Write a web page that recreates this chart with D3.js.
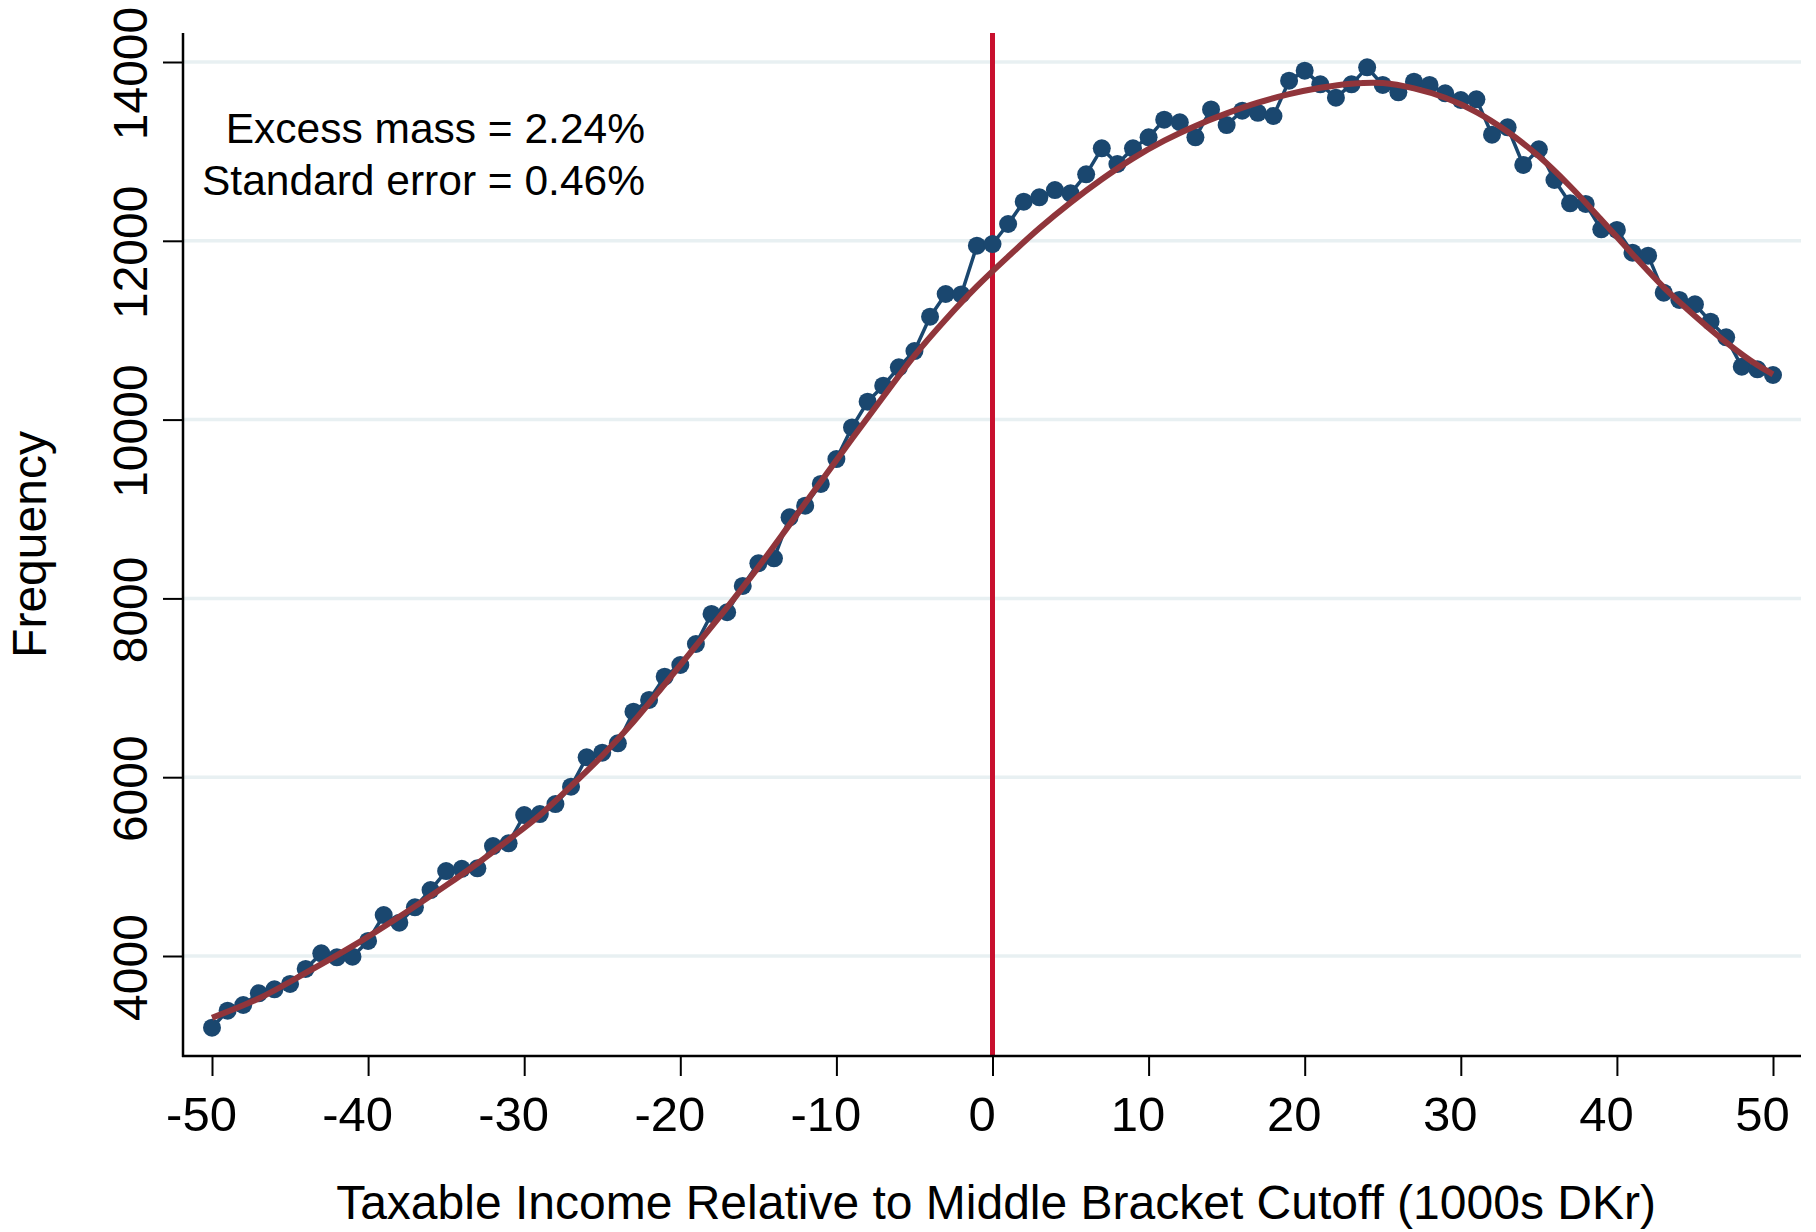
<!DOCTYPE html>
<html>
<head>
<meta charset="utf-8">
<script src="https://cdn.jsdelivr.net/npm/d3@7"></script>
<style>
  body { margin: 0; background: #fff; }
  svg { display: block; }
  text { font-family: "Liberation Sans", Arial, sans-serif; fill: #000; }
</style>
</head>
<body>
<svg id="chart" width="1816" height="1232"></svg>
<script>
// Income bins, 1000s DKr relative to the middle bracket cutoff
const bins = d3.range(-50, 51);

// Observed frequency in each bin
const frequency = [
  3198, 3388, 3452, 3582, 3627, 3687, 3855, 4030, 3985, 3992,
  4168, 4458, 4373, 4545, 4738, 4950, 4975, 4981, 5230, 5261,
  5577, 5588, 5700, 5894, 6222, 6274, 6379, 6733, 6864, 7124,
  7255, 7490, 7826, 7845, 8139, 8393, 8448, 8907, 9037, 9280,
  9559, 9913, 10200, 10379, 10585, 10767, 11151, 11405, 11400, 11945,
  11964,
  12188, 12438, 12486, 12568, 12531, 12744, 13034, 12859, 13034, 13157,
  13355, 13326, 13157, 13470, 13295, 13455, 13432, 13396, 13791, 13903,
  13750, 13601, 13750, 13940, 13743, 13661, 13780, 13743, 13650, 13575,
  13583, 13187, 13270, 12848, 13024, 12680, 12419, 12412, 12128, 12121,
  11867, 11834, 11420, 11338, 11289, 11095, 10920, 10592, 10562, 10499
];

// Counterfactual (fitted polynomial) density
const fitIncome = [-50, -47, -44, -41, -38, -35, -33, -31, -29, -27, -25, -23, -21, -19, -17, -15, -13, -11, -9, -7, -5, -3, -1,
  1, 3, 5, 7, 9, 11, 13, 15, 17, 19, 21, 23, 25, 27, 29, 31, 33, 35, 37, 39, 41, 43, 45, 47, 49, 50];
const fitFrequency = [3310, 3525, 3810, 4110, 4440, 4790, 5035, 5300, 5575, 5900, 6240, 6620, 7040, 7470, 7900, 8350, 8825, 9305, 9785, 10255, 10715, 11120, 11490,
  11823, 12140, 12427, 12688, 12922, 13120, 13285, 13425, 13545, 13640, 13712, 13758, 13765, 13705, 13600, 13440, 13220, 12945, 12610, 12235, 11850, 11480, 11160, 10865, 10610, 10507];

const xTicks = [-50, -40, -30, -20, -10, 0, 10, 20, 30, 40, 50];
const yTicks = [4000, 6000, 8000, 10000, 12000, 14000];
const cutoff = 0;
const noteLines = ["Excess mass = 2.24%", "Standard error = 0.46%"];

const frame = { left: 183, right: 1801, top: 33, bottom: 1056 };

const x = d3.scaleLinear().domain([-50, 50]).range([212, 1773]);
const y = d3.scaleLinear().domain([4000, 14000]).range([956, 62]);

// plain hyphen-minus labels
const plain = d => String(d);

const svg = d3.select("#chart");

// Horizontal grid
svg.append("g")
  .selectAll("line")
  .data(yTicks)
  .join("line")
  .attr("x1", frame.left).attr("x2", frame.right)
  .attr("y1", d => y(d)).attr("y2", d => y(d))
  .attr("stroke", "#e8f0f2")
  .attr("stroke-width", 3.5);

// Cutoff marker
svg.append("line")
  .attr("x1", x(cutoff)).attr("x2", x(cutoff))
  .attr("y1", frame.top).attr("y2", frame.bottom)
  .attr("stroke", "#c8102e")
  .attr("stroke-width", 5);

// Observed series
svg.append("path")
  .datum(frequency)
  .attr("fill", "none")
  .attr("stroke", "#1a476f")
  .attr("stroke-width", 3.5)
  .attr("stroke-linejoin", "round")
  .attr("d", d3.line().x((d, i) => x(bins[i])).y(d => y(d)));

svg.append("g")
  .selectAll("circle")
  .data(frequency)
  .join("circle")
  .attr("cx", (d, i) => x(bins[i]))
  .attr("cy", d => y(d))
  .attr("r", 9)
  .attr("fill", "#1a476f");

// Fitted counterfactual
svg.append("path")
  .datum(fitFrequency)
  .attr("fill", "none")
  .attr("stroke", "#90353b")
  .attr("stroke-width", 6)
  .attr("stroke-linecap", "butt")
  .attr("d", d3.line().curve(d3.curveCatmullRom.alpha(0.5)).x((d, i) => x(fitIncome[i])).y(d => y(d)));

// Axes
const yAxis = svg.append("g")
  .attr("transform", `translate(${frame.left},0)`)
  .call(d3.axisLeft(y).tickValues(yTicks).tickSize(20).tickFormat(plain));
yAxis.select(".domain").remove();
yAxis.selectAll(".tick line").attr("stroke", "#000").attr("stroke-width", 2);
yAxis.selectAll(".tick text")
  .attr("transform", "rotate(-90)")
  .attr("x", -11).attr("y", -36).attr("dy", null)
  .attr("text-anchor", "middle")
  .attr("font-size", 48)
  .attr("font-family", null)
  .attr("fill", "#000");

const xAxis = svg.append("g")
  .attr("transform", `translate(0,${frame.bottom})`)
  .call(d3.axisBottom(x).tickValues(xTicks).tickSize(20).tickFormat(plain));
xAxis.select(".domain").remove();
xAxis.selectAll(".tick line").attr("stroke", "#000").attr("stroke-width", 2);
xAxis.selectAll(".tick text")
  .attr("y", 75).attr("dy", null).attr("dx", -11)
  .attr("font-size", 49)
  .attr("font-family", null)
  .attr("fill", "#000");

svg.append("line")
  .attr("x1", frame.left).attr("x2", frame.left)
  .attr("y1", frame.top).attr("y2", frame.bottom + 1)
  .attr("stroke", "#000").attr("stroke-width", 2.5);
svg.append("line")
  .attr("x1", frame.left - 1).attr("x2", frame.right)
  .attr("y1", frame.bottom).attr("y2", frame.bottom)
  .attr("stroke", "#000").attr("stroke-width", 2.5);

// Axis titles
svg.append("text")
  .attr("x", (frame.left + frame.right) / 2 + 4)
  .attr("y", 1219)
  .attr("text-anchor", "middle")
  .attr("font-size", 48)
  .text("Taxable Income Relative to Middle Bracket Cutoff (1000s DKr)");

svg.append("text")
  .attr("transform", `translate(46,${(frame.top + frame.bottom) / 2}) rotate(-90)`)
  .attr("text-anchor", "middle")
  .attr("font-size", 48)
  .text("Frequency");

// Bunching estimate note
svg.append("g")
  .selectAll("text")
  .data(noteLines)
  .join("text")
  .attr("x", 645)
  .attr("y", (d, i) => 143 + i * 52)
  .attr("text-anchor", "end")
  .attr("font-size", 42.5)
  .text(d => d);
</script>
</body>
</html>
